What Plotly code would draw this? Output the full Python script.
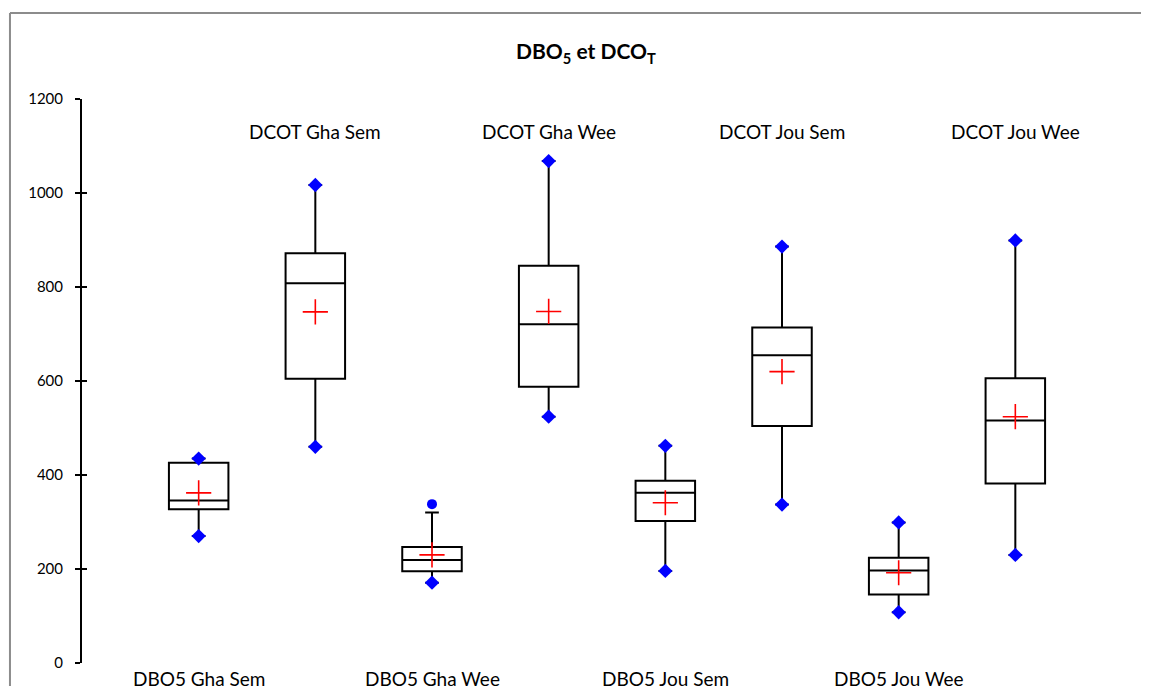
import plotly.graph_objects as go

# one entry per box, left to right
categories = ["DBO5 Gha Sem", "DCOT Gha Sem", "DBO5 Gha Wee", "DCOT Gha Wee",
              "DBO5 Jou Sem", "DCOT Jou Sem", "DBO5 Jou Wee", "DCOT Jou Wee"]
positions = [1, 2, 3, 4, 5, 6, 7, 8]

minimum = [270, 460, 171, 524, 196, 337, 108, 230]
q1 = [327, 605, 195, 588, 302, 504, 146, 382]
median = [346, 808, 219, 721, 362, 655, 197, 516]
q3 = [426, 872, 247, 845, 388, 714, 224, 606]
upper_whisker = [435, 1017, 320, 1068, 462, 886, 299, 899]
maximum = [435, 1017, None, 1068, 462, 886, 299, 899]
mean = [362, 747, 230, 748, 341, 620, 192, 524]

outlier_x = [3]
outlier_y = [338]

y_ticks = [0, 200, 400, 600, 800, 1000, 1200]

FONT = "Lato, 'Open Sans', sans-serif"

fig = go.Figure()

fig.add_trace(go.Box(
    x=positions,
    q1=q1,
    median=median,
    q3=q3,
    lowerfence=minimum,
    upperfence=upper_whisker,
    width=0.51,
    whiskerwidth=0.23,
    boxpoints=False,
    fillcolor="rgba(0,0,0,0)",
    line=dict(color="black", width=2),
    hoverinfo="skip",
    showlegend=False,
))

# min / max markers
fig.add_trace(go.Scatter(
    x=positions + positions,
    y=minimum + maximum,
    mode="markers",
    marker=dict(symbol="diamond", size=11, color="#0000ff"),
    showlegend=False,
))

fig.add_trace(go.Scatter(
    x=outlier_x,
    y=outlier_y,
    mode="markers",
    marker=dict(symbol="circle", size=10, color="#0000ff"),
    showlegend=False,
))

fig.add_trace(go.Scatter(
    x=positions,
    y=mean,
    mode="markers",
    marker=dict(symbol="cross-thin", size=18, color="red",
                line=dict(color="red", width=1.6)),
    showlegend=False,
))

# invisible trace so the second (inside-tick) axis gets drawn
fig.add_trace(go.Scatter(x=[None], y=[None], yaxis="y2", showlegend=False))

# labels : DBO5 below the boxes, DCOT above (paper y, since plotly hides
# annotations that sit outside a fixed axis range)
annotations = []
for pos, name in zip(positions, categories):
    top = name.startswith("DCOT")
    annotations.append(dict(
        x=pos, y=0.943 if top else -0.027, xref="x", yref="paper",
        yanchor="middle",
        text=name, showarrow=False,
        font=dict(family=FONT, size=19, color="black"),
    ))

# the page body adds ~8px, so margins are shifted up/left by that much
fig.update_layout(
    width=1149,
    height=686,
    paper_bgcolor="white",
    plot_bgcolor="white",
    margin=dict(l=74, r=25, t=91, b=31),
    title=dict(
        text="<b>DBO<sub>5</sub> et DCO<sub>T</sub></b>",
        x=0.503, xref="container", xanchor="center",
        y=0.936, yref="container", yanchor="middle",
        font=dict(family=FONT, size=21, color="black"),
    ),
    xaxis=dict(range=[0, 9], showticklabels=False, showgrid=False,
               zeroline=False, showline=False, ticks=""),
    yaxis=dict(range=[0, 1200], tickvals=y_ticks, showgrid=False,
               zeroline=False, showline=True, linecolor="black", linewidth=2,
               ticks="outside", ticklen=5, tickwidth=2, tickcolor="black",
               ticklabelstandoff=9,
               tickfont=dict(family=FONT, size=15, color="black")),
    yaxis2=dict(range=[0, 1200], tickvals=y_ticks, overlaying="y", side="left",
                showgrid=False, zeroline=False, showline=False,
                ticks="inside", ticklen=5, tickwidth=2, tickcolor="black",
                showticklabels=False),
    annotations=annotations,
    shapes=[
        dict(type="line", xref="paper", yref="paper",
             x0=-0.0686, x1=-0.0686, y0=-0.08, y1=1.1525,
             line=dict(color="#8c8c8c", width=2)),
        dict(type="line", xref="paper", yref="paper",
             x0=-0.0686, x1=1.06, y0=1.1525, y1=1.1525,
             line=dict(color="#8c8c8c", width=2)),
    ],
)

fig.write_html("out.html")
